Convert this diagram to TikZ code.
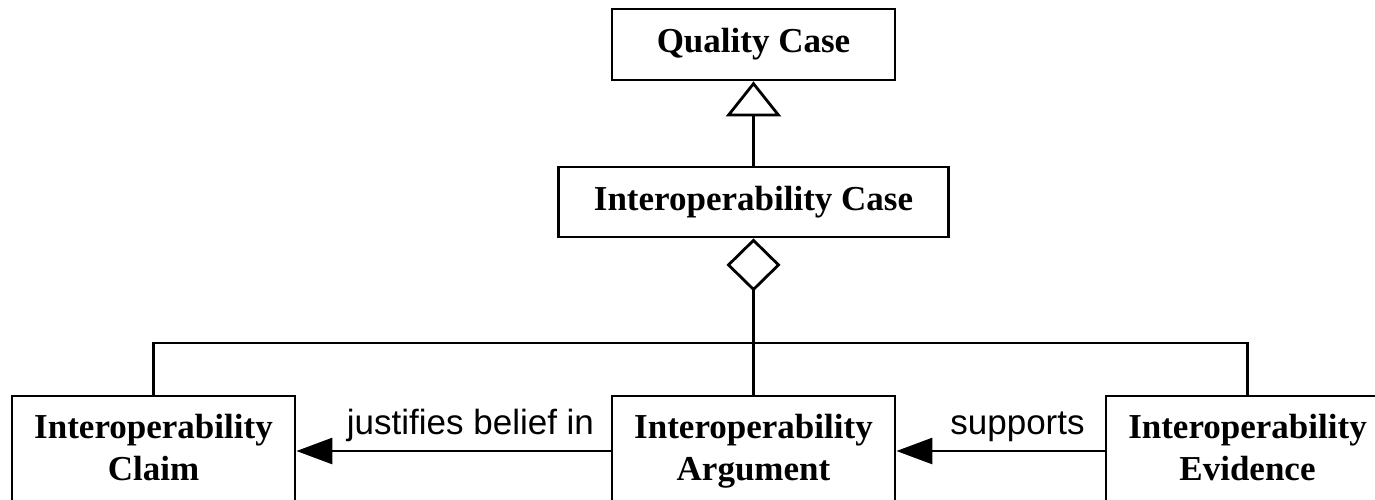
\documentclass[tikz,border=0pt]{standalone}
\usepackage{fontspec}
\setmainfont{Liberation Serif}
\newfontfamily\labelfont{Liberation Sans}
\usetikzlibrary{arrows.meta}

\begin{document}
\begin{tikzpicture}[>={Triangle[length=18pt,width=13pt]},line width=1.4pt,node distance=78.75pt]
  \tikzstyle{cls}=[draw,rectangle,align=center,inner sep=0pt,text depth=4pt,minimum width=141.5pt,minimum height=35.5pt,font=\bfseries\fontsize{17.5}{21}\selectfont]
  \tikzstyle{rel}=[midway,anchor=base,xshift=8.5pt,yshift=8.5pt,font=\labelfont\fontsize{17.5}{21}\selectfont]
  \useasboundingbox (-376.75pt,22.25pt) rectangle (310.75pt,-227.25pt);
  \node[cls] (QC)                                               {Quality Case};
  \node[cls,minimum width=195pt,minimum height=35pt] (IC) [below of=QC] {Interoperability Case};
  \node[cls,minimum height=55pt] (Arg)   [below of=IC,node distance=124.5pt] {Interoperability\\Argument};
  \node[cls,minimum height=55pt] (Claim) [left of=Arg,node distance=300pt]   {Interoperability\\Claim};
  \node[cls,minimum height=55pt] (Evid)  [right of=Arg,node distance=247pt]  {Interoperability\\Evidence};
  \node[coordinate] (bar) [above of=Arg,node distance=54pt] {};
  % generalization and composition
  \draw[-{Triangle[open,length=17.5pt,width=27.5pt]}] (IC) -- (QC);
  \draw[{Diamond[open,length=26.5pt,width=27pt]}-] (IC) -- (bar);
  \draw (Claim.north) |- (bar) -| (Evid.north);
  \draw (bar) -- (Arg);
  \path[->]
        (Arg)  edge node[rel] {justifies belief in} (Claim)
        (Evid) edge node[rel] {supports}            (Arg);
\end{tikzpicture}
\end{document}
